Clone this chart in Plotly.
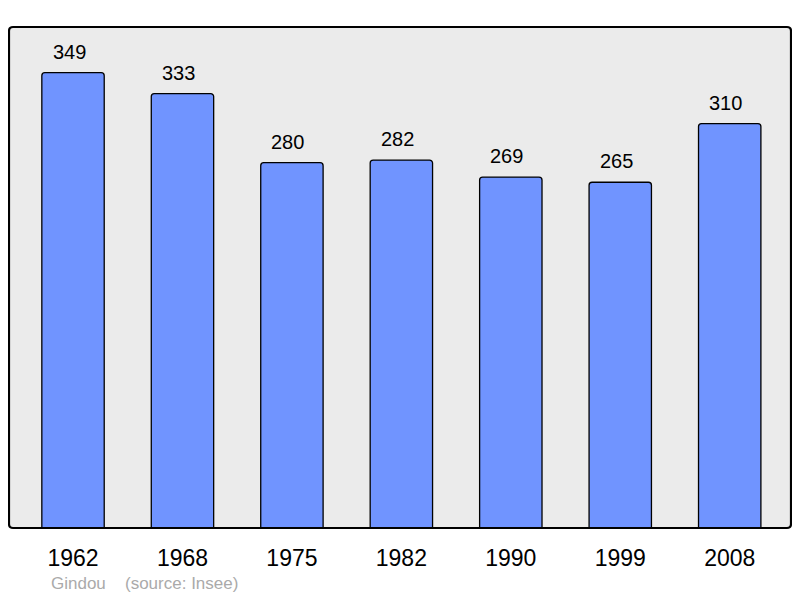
import plotly.graph_objects as go

years = ["1962", "1968", "1975", "1982", "1990", "1999", "2008"]
population = [349, 333, 280, 282, 269, 265, 310]
commune = "Gindou"
source = "(source: Insee)"

# page body has an 8px margin: figure is laid out in page pixels minus 8
OFF = 8
W, H = 800 - OFF, 598 - OFF
FX0, FX1, FY0, FY1 = 9 - OFF, 791 - OFF, 27 - OFF, 528 - OFF
L, R, T, B = FX0, W - FX1, FY0, H - FY1
PW, PH = W - L - R, H - T - B

FONT = "Liberation Sans, Arial"

fig = go.Figure()
fig.add_trace(go.Bar(
    x=years, y=population,
    width=0.57,
    marker=dict(color="#7094FF", line=dict(color="#000000", width=1.3), cornerradius=3),
    hoverinfo="skip",
))

for i, v in enumerate(population):
    fig.add_annotation(x=i, y=v, text=str(v), showarrow=False,
                       yanchor="bottom", yshift=8, xshift=-4,
                       font=dict(family=FONT, size=20, color="#000"))

def px_to_paper(x, y):
    return (x - OFF - L) / PW, 1 - (y - OFF - T) / PH

for txt, px in [(commune, 49), (source, 123)]:
    ax, ay = px_to_paper(px, 583)
    fig.add_annotation(xref="paper", yref="paper", x=ax, y=ay,
                       xanchor="left", yanchor="middle", showarrow=False, text=txt,
                       font=dict(family=FONT, size=17, color="#AAAAAA"))

# rounded frame around the plot area
rx, ry = 4 / PW, 4 / PH
path = (f"M {rx} 0 L {1 - rx} 0 Q 1 0 1 {ry} L 1 {1 - ry} Q 1 1 {1 - rx} 1 "
        f"L {rx} 1 Q 0 1 0 {1 - ry} L 0 {ry} Q 0 0 {rx} 0 Z")
fig.add_shape(type="path", xref="paper", yref="paper", path=path,
              line=dict(color="#000", width=2.2), layer="above")

fig.update_layout(
    width=W, height=H,
    margin=dict(l=L, r=R, t=T, b=B),
    paper_bgcolor="#FFFFFF", plot_bgcolor="#EBEBEB",
    showlegend=False,
    xaxis=dict(type="category", range=[-0.585, 6.56], showgrid=False, zeroline=False,
               ticks="outside", ticklen=9, tickcolor="rgba(0,0,0,0)",
               tickfont=dict(family=FONT, size=23, color="#000"), fixedrange=True),
    yaxis=dict(range=[0, 384], showgrid=False, zeroline=False, showticklabels=False, fixedrange=True),
)

fig.write_html("out.html")
